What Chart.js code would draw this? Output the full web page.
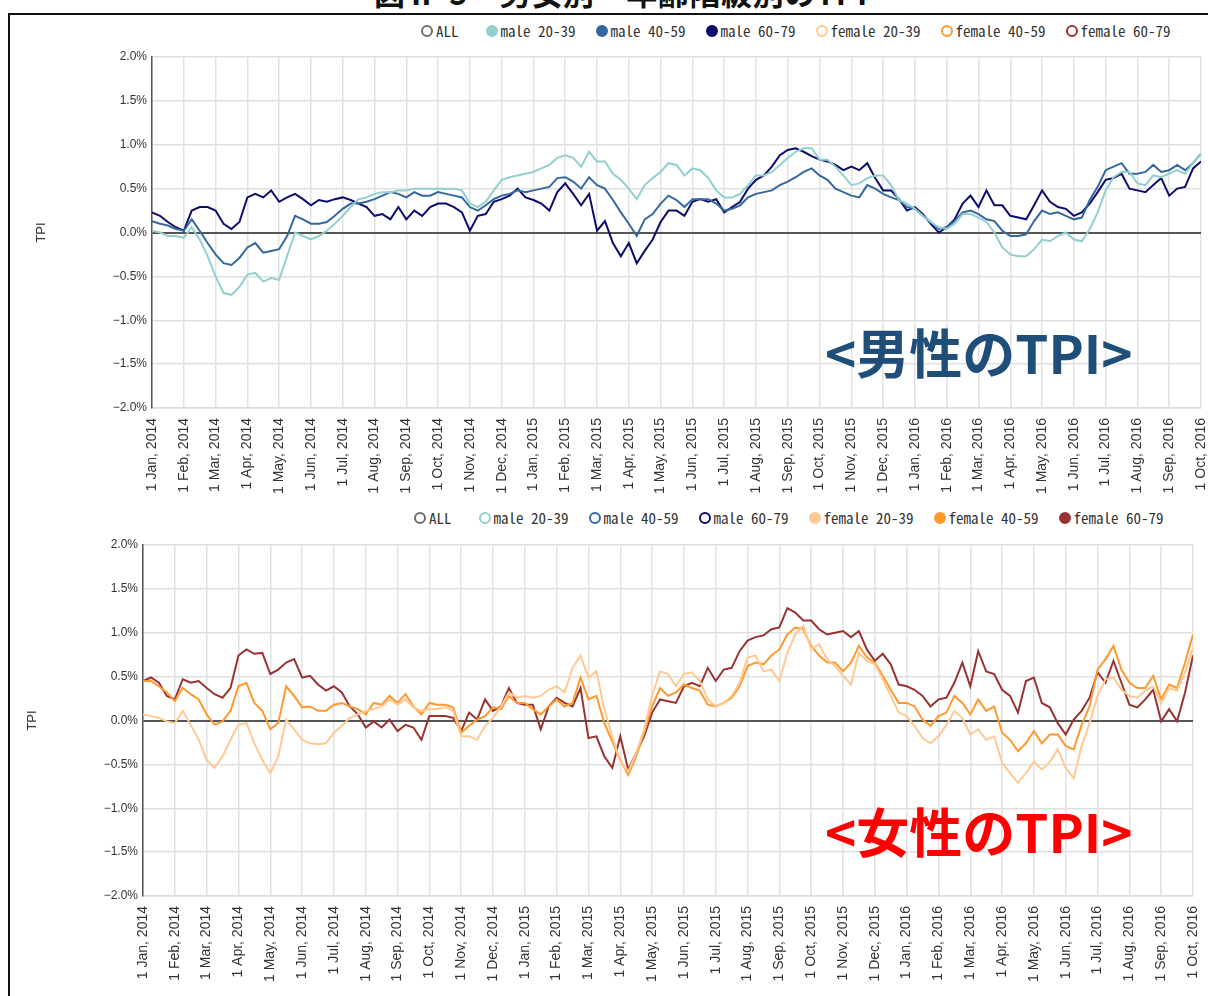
<!DOCTYPE html>
<html lang="ja">
<head>
<meta charset="utf-8">
<title>男女別・年齢階級別のTPI</title>
<script src="https://cdn.jsdelivr.net/npm/chart.js@4.4.1/dist/chart.umd.min.js"></script>
<style>
  html, body { margin: 0; padding: 0; background: #fff; }
  body { width: 1208px; height: 996px; position: relative; overflow: hidden; font-family: "Liberation Sans", Arial, sans-serif; }
  .caption { position: absolute; left: 17px; top: -31px; width: 1208px; line-height: 34px; text-align: center; font: bold 31px "Noto Sans CJK JP", sans-serif; letter-spacing: 0.6px; color: #111; white-space: nowrap; }
  .frame { position: absolute; left: 8px; top: 13px; width: 1210px; height: 1000px; border-left: 2px solid #111; border-top: 2px solid #111; }
  .box { position: absolute; }
  .legend { position: absolute; display: flex; align-items: center; font: 15px "Noto Sans Mono CJK JP", "DejaVu Sans Mono", monospace; color: #333; white-space: nowrap; }
  .legend span { display: flex; align-items: center; margin-right: 20px; }
  .legend span:first-child { margin-right: 27px; }
  .legend i { display: inline-block; width: 8px; height: 8px; border-radius: 50%; border: 2px solid; margin-right: 3px; }
  .stamp { position: absolute; font: bold 53px "Noto Sans CJK JP", sans-serif; white-space: nowrap; line-height: 60px; }
</style>
</head>
<body>
<div class="caption">図Ⅱ-5　男女別・年齢階級別のTPI</div>
<div class="frame"></div>

<div class="legend" id="legendMale" style="left:421px; top:20px;"></div>
<div class="box" style="left:0; top:40px;"><canvas id="maleChart" width="1208" height="460"></canvas></div>
<div class="stamp" style="left:825px; top:321px; color:#1f4e79;">&lt;男性のTPI&gt;</div>

<div class="legend" id="legendFemale" style="left:414px; top:507px;"></div>
<div class="box" style="left:0; top:528px;"><canvas id="femaleChart" width="1208" height="468"></canvas></div>
<div class="stamp" style="left:825px; top:800px; color:#ff0000;">&lt;女性のTPI&gt;</div>

<script>
// month ticks along the bottom axis, one per month
const tickLabels = [
  '1 Jan, 2014', '1 Feb, 2014', '1 Mar, 2014', '1 Apr, 2014', '1 May, 2014', '1 Jun, 2014',
  '1 Jul, 2014', '1 Aug, 2014', '1 Sep, 2014', '1 Oct, 2014', '1 Nov, 2014', '1 Dec, 2014',
  '1 Jan, 2015', '1 Feb, 2015', '1 Mar, 2015', '1 Apr, 2015', '1 May, 2015', '1 Jun, 2015',
  '1 Jul, 2015', '1 Aug, 2015', '1 Sep, 2015', '1 Oct, 2015', '1 Nov, 2015', '1 Dec, 2015',
  '1 Jan, 2016', '1 Feb, 2016', '1 Mar, 2016', '1 Apr, 2016', '1 May, 2016', '1 Jun, 2016',
  '1 Jul, 2016', '1 Aug, 2016', '1 Sep, 2016', '1 Oct, 2016'
];

const seriesNames = ['ALL', 'male 20-39', 'male 40-59', 'male 60-79', 'female 20-39', 'female 40-59', 'female 60-79'];
const seriesColors = ['#6e6e6e', '#93cfcf', '#35699d', '#0c0c6c', '#ffc993', '#ff992e', '#993333'];

// TPI (%), sampled four times a month from Jan 2014
const male2039 = [
  0.02, 0.00, -0.04, -0.04, -0.06, 0.06, -0.08, -0.27, -0.50, -0.69, -0.71, -0.62,
  -0.48, -0.46, -0.56, -0.52, -0.54, -0.27, 0.00, -0.04, -0.08, -0.04, 0.02, 0.10,
  0.19, 0.29, 0.38, 0.40, 0.44, 0.46, 0.46, 0.48, 0.48, 0.50, 0.50, 0.50,
  0.50, 0.50, 0.50, 0.48, 0.33, 0.29, 0.35, 0.48, 0.60, 0.63, 0.65, 0.67,
  0.69, 0.73, 0.77, 0.85, 0.88, 0.85, 0.75, 0.92, 0.81, 0.81, 0.67, 0.60,
  0.50, 0.38, 0.54, 0.62, 0.69, 0.79,
  0.77, 0.65, 0.73, 0.71, 0.62, 0.48, 0.40, 0.40, 0.44, 0.54, 0.65, 0.65,
  0.69, 0.77, 0.85, 0.92, 0.96, 0.96, 0.83, 0.83, 0.75, 0.65, 0.54, 0.56,
  0.62, 0.65, 0.65, 0.54, 0.37, 0.33, 0.27, 0.19, 0.12, 0.06, 0.04, 0.10,
  0.21, 0.21, 0.17, 0.12, 0.00, -0.17, -0.25, -0.27, -0.27, -0.19, -0.08, -0.10,
  -0.04, 0.00, -0.08, -0.10, 0.04, 0.23, 0.48, 0.63, 0.69, 0.69, 0.56, 0.54,
  0.65, 0.63, 0.67, 0.71, 0.67, 0.79, 0.90
];
const male4059 = [
  0.13, 0.10, 0.08, 0.04, 0.02, 0.15, 0.02, -0.12, -0.25, -0.35, -0.37, -0.29,
  -0.17, -0.12, -0.23, -0.21, -0.19, -0.04, 0.19, 0.15, 0.10, 0.10, 0.12, 0.19,
  0.27, 0.33, 0.33, 0.35, 0.38, 0.42, 0.46, 0.44, 0.40, 0.46, 0.42, 0.42,
  0.46, 0.44, 0.42, 0.40, 0.29, 0.25, 0.31, 0.38, 0.42, 0.44, 0.48, 0.46,
  0.48, 0.50, 0.52, 0.62, 0.63, 0.58, 0.50, 0.63, 0.54, 0.50, 0.37, 0.23,
  0.10, -0.04, 0.15, 0.21, 0.33, 0.42,
  0.37, 0.29, 0.38, 0.38, 0.38, 0.33, 0.25, 0.27, 0.31, 0.40, 0.44, 0.46,
  0.48, 0.54, 0.58, 0.63, 0.69, 0.73, 0.65, 0.60, 0.50, 0.46, 0.42, 0.40,
  0.54, 0.50, 0.44, 0.40, 0.37, 0.29, 0.27, 0.19, 0.12, 0.04, 0.06, 0.13,
  0.23, 0.25, 0.21, 0.15, 0.13, 0.02, -0.04, -0.04, -0.02, 0.13, 0.25, 0.21,
  0.23, 0.19, 0.15, 0.17, 0.37, 0.52, 0.71, 0.75, 0.79, 0.67, 0.67, 0.69,
  0.77, 0.69, 0.71, 0.77, 0.71, 0.79, 0.90
];
const male6079 = [
  0.23, 0.19, 0.12, 0.06, 0.02, 0.25, 0.29, 0.29, 0.25, 0.10, 0.04, 0.12,
  0.40, 0.44, 0.40, 0.48, 0.35, 0.40, 0.44, 0.38, 0.31, 0.37, 0.35, 0.38,
  0.40, 0.37, 0.33, 0.29, 0.19, 0.21, 0.15, 0.29, 0.15, 0.25, 0.19, 0.29,
  0.33, 0.33, 0.29, 0.23, 0.02, 0.19, 0.21, 0.35, 0.38, 0.42, 0.50, 0.40,
  0.37, 0.33, 0.25, 0.46, 0.56, 0.44, 0.31, 0.44, 0.02, 0.13, -0.12, -0.27,
  -0.12, -0.35, -0.21, -0.08, 0.12, 0.25,
  0.25, 0.19, 0.35, 0.38, 0.35, 0.38, 0.23, 0.29, 0.35, 0.50, 0.60, 0.65,
  0.75, 0.88, 0.94, 0.96, 0.92, 0.87, 0.83, 0.81, 0.77, 0.71, 0.75, 0.71,
  0.79, 0.62, 0.48, 0.48, 0.38, 0.25, 0.29, 0.21, 0.10, 0.00, 0.06, 0.15,
  0.33, 0.42, 0.29, 0.48, 0.31, 0.31, 0.19, 0.17, 0.15, 0.31, 0.48, 0.35,
  0.29, 0.27, 0.19, 0.23, 0.33, 0.46, 0.60, 0.62, 0.67, 0.50, 0.48, 0.46,
  0.54, 0.62, 0.42, 0.50, 0.52, 0.73, 0.81
];
const female2039 = [
  0.07, 0.05, 0.03, -0.01, -0.03, 0.11, -0.05, -0.22, -0.45, -0.54, -0.41, -0.22,
  -0.05, -0.03, -0.26, -0.45, -0.60, -0.41, 0.01, -0.10, -0.22, -0.26, -0.27, -0.26,
  -0.14, -0.06, 0.03, 0.07, 0.11, 0.13, 0.16, 0.24, 0.18, 0.24, 0.15, 0.11,
  0.13, 0.13, 0.15, 0.11, -0.18, -0.18, -0.22, -0.06, 0.03, 0.16, 0.32, 0.26,
  0.28, 0.26, 0.28, 0.35, 0.39, 0.32, 0.60, 0.74, 0.49, 0.56, 0.13, -0.18,
  -0.47, -0.58, -0.37, -0.10, 0.28, 0.56,
  0.53, 0.39, 0.53, 0.55, 0.45, 0.24, 0.16, 0.20, 0.28, 0.43, 0.72, 0.74,
  0.56, 0.58, 0.45, 0.77, 0.98, 1.08, 0.81, 0.87, 0.70, 0.62, 0.51, 0.41,
  0.77, 0.68, 0.64, 0.47, 0.28, 0.09, 0.05, -0.06, -0.20, -0.26, -0.18, -0.05,
  0.11, 0.03, -0.16, -0.10, -0.22, -0.18, -0.48, -0.60, -0.71, -0.60, -0.47, -0.56,
  -0.47, -0.33, -0.54, -0.66, -0.29, -0.03, 0.28, 0.47, 0.49, 0.35, 0.28, 0.26,
  0.34, 0.39, 0.20, 0.37, 0.34, 0.55, 0.83
];
const female4059 = [
  0.45, 0.45, 0.39, 0.32, 0.22, 0.37, 0.30, 0.24, 0.07, -0.05, -0.01, 0.11,
  0.39, 0.43, 0.20, 0.11, -0.10, -0.03, 0.39, 0.28, 0.15, 0.16, 0.11, 0.11,
  0.18, 0.20, 0.16, 0.13, 0.07, 0.20, 0.18, 0.28, 0.20, 0.30, 0.16, 0.07,
  0.20, 0.18, 0.18, 0.15, -0.14, -0.06, 0.01, 0.05, 0.15, 0.13, 0.28, 0.20,
  0.20, 0.13, 0.07, 0.16, 0.24, 0.16, 0.20, 0.49, 0.24, 0.28, -0.03, -0.24,
  -0.45, -0.62, -0.41, -0.14, 0.16, 0.37,
  0.28, 0.32, 0.41, 0.37, 0.34, 0.18, 0.16, 0.20, 0.26, 0.39, 0.62, 0.66,
  0.64, 0.74, 0.81, 0.98, 1.06, 1.04, 0.85, 0.74, 0.66, 0.66, 0.56, 0.66,
  0.85, 0.72, 0.66, 0.51, 0.35, 0.20, 0.20, 0.16, 0.01, -0.06, 0.05, 0.09,
  0.28, 0.20, 0.07, 0.24, 0.11, 0.16, -0.14, -0.22, -0.35, -0.26, -0.12, -0.26,
  -0.16, -0.16, -0.29, -0.33, -0.05, 0.16, 0.58, 0.70, 0.85, 0.58, 0.43, 0.37,
  0.37, 0.51, 0.24, 0.41, 0.37, 0.66, 0.98
];
const female6079 = [
  0.45, 0.49, 0.43, 0.28, 0.24, 0.47, 0.43, 0.45, 0.37, 0.30, 0.26, 0.37,
  0.74, 0.81, 0.76, 0.77, 0.53, 0.58, 0.66, 0.70, 0.49, 0.51, 0.41, 0.34,
  0.39, 0.32, 0.16, 0.07, -0.08, -0.01, -0.08, 0.01, -0.12, -0.05, -0.08, -0.22,
  0.05, 0.05, 0.05, 0.03, -0.12, 0.09, 0.01, 0.24, 0.11, 0.16, 0.37, 0.20,
  0.18, 0.18, -0.10, 0.16, 0.26, 0.20, 0.16, 0.37, -0.20, -0.18, -0.41, -0.54,
  -0.18, -0.56, -0.37, -0.18, 0.09, 0.24,
  0.22, 0.20, 0.39, 0.43, 0.39, 0.60, 0.45, 0.58, 0.60, 0.79, 0.91, 0.95,
  0.97, 1.04, 1.06, 1.28, 1.23, 1.14, 1.14, 1.04, 0.98, 1.00, 1.02, 0.95,
  1.02, 0.81, 0.68, 0.76, 0.64, 0.41, 0.39, 0.35, 0.28, 0.16, 0.24, 0.26,
  0.43, 0.66, 0.39, 0.79, 0.56, 0.53, 0.35, 0.28, 0.09, 0.45, 0.49, 0.20,
  0.15, -0.03, -0.16, 0.01, 0.11, 0.26, 0.55, 0.43, 0.68, 0.43, 0.18, 0.15,
  0.24, 0.35, -0.01, 0.13, -0.01, 0.32, 0.74
];

const baseFont = '"Liberation Sans", Arial, sans-serif';

function buildLegend(id, shown) {
  const box = document.getElementById(id);
  seriesNames.forEach((name, i) => {
    const item = document.createElement('span');
    const dot = document.createElement('i');
    dot.style.borderColor = seriesColors[i];
    dot.style.background = shown.includes(i) ? seriesColors[i] : '#fff';
    item.appendChild(dot);
    item.appendChild(document.createTextNode(name));
    box.appendChild(item);
  });
}

function makeChart(id, shown, values, opt) {
  const datasets = shown.map((s, k) => ({
    label: seriesNames[s],
    data: values[k].map((v, i) => ({ x: i / 4, y: v })),
    borderColor: seriesColors[s],
    borderWidth: 2,
    pointRadius: 0,
    tension: 0,
    fill: false
  }));
  return new Chart(document.getElementById(id), {
    type: 'line',
    data: { datasets },
    options: {
      responsive: false,
      animation: false,
      layout: { padding: { top: opt.padTop, right: opt.padRight, left: 0, bottom: 0 } },
      plugins: { legend: { display: false }, tooltip: { enabled: false } },
      scales: {
        x: {
          type: 'linear',
          min: 0,
          max: 33,
          afterBuildTicks: (scale) => { scale.ticks = tickLabels.map((t, i) => ({ value: i })); },
          afterFit: (scale) => {
            scale.height = opt.xHeight;
            scale.paddingLeft = 0;
            scale.paddingRight = 0;
          },
          grid: { color: '#e2e2e2', lineWidth: 1.5, drawTicks: false },
          border: { color: '#dcdcdc', width: 1.5 },
          ticks: {
            autoSkip: false,
            minRotation: 90,
            maxRotation: 90,
            padding: 10,
            color: '#333',
            font: { family: baseFont, size: 14 },
            callback: (v) => tickLabels[v]
          }
        },
        y: {
          min: -2,
          max: 2,
          afterFit: (scale) => { scale.width = opt.yWidth; },
          title: { display: true, text: 'TPI', color: '#333', font: { family: baseFont, size: 13 }, padding: { top: opt.titlePad, bottom: 0 } },
          grid: {
            drawTicks: false,
            color: (c) => c.tick.value === 0 ? '#555' : '#e0e0e0',
            lineWidth: (c) => c.tick.value === 0 ? 2 : 1.5
          },
          border: { color: '#555', width: 1.5 },
          ticks: {
            stepSize: 0.5,
            padding: 5,
            color: '#333',
            font: { family: baseFont, size: 12 },
            callback: (v) => (v < 0 ? '\u2212' : '') + Math.abs(v).toFixed(1) + '%'
          }
        }
      }
    }
  });
}

buildLegend('legendMale', [1, 2, 3]);
buildLegend('legendFemale', [4, 5, 6]);

makeChart('maleChart', [1, 2, 3], [male2039, male4059, male6079],
  { padTop: 17, padRight: 7, xHeight: 92, yWidth: 152, titlePad: 34 });
makeChart('femaleChart', [4, 5, 6], [female2039, female4059, female6079],
  { padTop: 17, padRight: 15, xHeight: 100, yWidth: 143, titlePad: 25 });
</script>
</body>
</html>
